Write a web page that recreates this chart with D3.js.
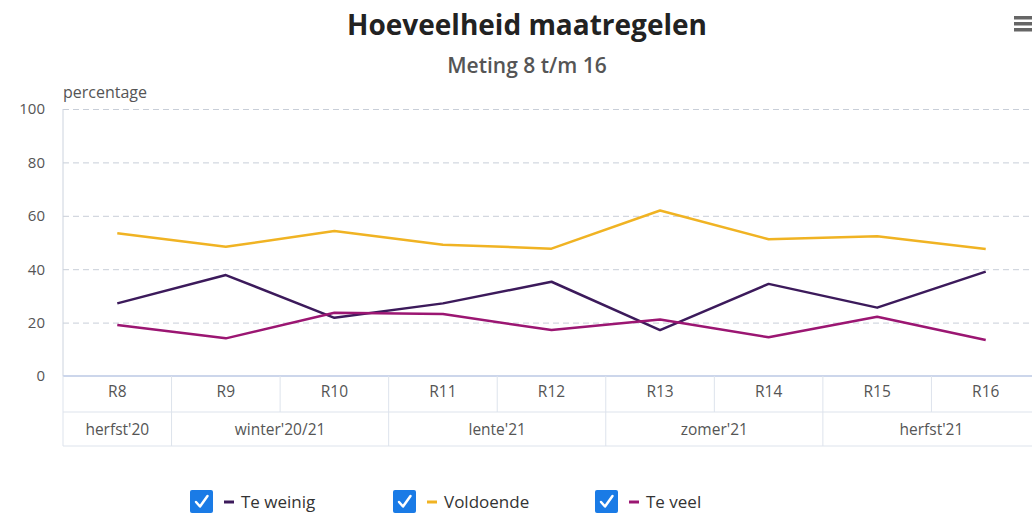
<!DOCTYPE html>
<html><head><meta charset="utf-8">
<script src="https://cdn.jsdelivr.net/npm/d3@7"></script>
<style>body{margin:0;background:#fff;}svg{display:block;font-family:"Open Sans","Noto Sans",sans-serif;}</style>
</head><body>
<svg id="c" width="1032" height="517"></svg>
<script>
const categories = ["R8","R9","R10","R11","R12","R13","R14","R15","R16"];
const seasons = ["herfst'20","winter'20/21","lente'21","zomer'21","herfst'21"];
const seasonSpans = [1,2,2,2,2];
const seriesNames = ["Te weinig","Voldoende","Te veel"];
const teWeinig = [27.2,37.8,21.8,27.2,35.3,17.2,34.5,25.6,39.1];
const voldoende = [53.5,48.4,54.3,49.2,47.7,62.0,51.2,52.3,47.6];
const teVeel = [19.1,14.1,23.7,23.2,17.2,21.2,14.5,22.2,13.5];
const yTicks = [0,20,40,60,80,100];
const colors = ["#3c1a5b","#f0b323","#9b1672"];

(function(){
const svg = d3.select("#c");
const pl = 63, pr = 1040, pt = 109, pb = 376;
const x = d3.scaleBand().domain(categories).range([pl,pr]);
const y = d3.scaleLinear().domain([0,100]).range([pb,pt]);
const FF = "'Open Sans','Noto Sans',sans-serif";

// title
svg.append("text").attr("x",527).attr("y",35).attr("text-anchor","middle")
  .attr("font-size",28).attr("font-weight",700).attr("fill","#222").text("Hoeveelheid maatregelen");
svg.append("text").attr("x",527).attr("y",73).attr("text-anchor","middle")
  .attr("font-size",21).attr("font-weight",600).attr("fill","#555").text("Meting 8 t/m 16");
// hamburger
[0,1,2].forEach(i=>svg.append("rect").attr("x",1014).attr("y",16+i*6).attr("width",20).attr("height",3.5).attr("fill","#666"));

// grid
const yAxis = svg.append("g").attr("transform",`translate(${pl},0)`)
  .call(d3.axisLeft(y).tickValues(yTicks).tickSize(-(pr-pl)).tickPadding(18));
yAxis.attr("font-family",FF);
yAxis.select(".domain").remove();
yAxis.selectAll(".tick line").attr("stroke","#c8ced8").attr("stroke-dasharray","6,4")
  .filter(d=>d===0).remove();
yAxis.selectAll(".tick text").attr("font-size",15).attr("fill","#555");
svg.append("line").attr("x1",pl).attr("x2",pl).attr("y1",pt).attr("y2",pb).attr("stroke","#ccd3de");
svg.append("text").attr("x",pl).attr("y",98).attr("font-size",16).attr("fill","#555").text("percentage");

// x axis table
const r1 = pb, r2 = 412, r3 = 446;
const xAxis = svg.append("g").attr("transform",`translate(0,${pb})`)
  .call(d3.axisBottom(x).tickSize(0).tickPadding(12));
xAxis.attr("font-family",FF);
xAxis.select(".domain").remove();
xAxis.selectAll(".tick text").attr("font-size",15.5).attr("fill","#555").attr("dy","0.6em");
svg.append("line").attr("x1",pl).attr("x2",pr).attr("y1",r1).attr("y2",r1).attr("stroke","#ccd6eb").attr("stroke-width",2);
svg.append("line").attr("x1",pl).attr("x2",pr).attr("y1",r2).attr("y2",r2).attr("stroke","#dde3ec");
svg.append("line").attr("x1",pl).attr("x2",pr).attr("y1",r3).attr("y2",r3).attr("stroke","#dde3ec");
categories.forEach(c=>svg.append("line").attr("x1",x(c)).attr("x2",x(c)).attr("y1",r1).attr("y2",r2).attr("stroke","#dde3ec"));
let idx = 0;
seasons.forEach((s,i)=>{
  const x0 = x(categories[idx]);
  const x1 = x(categories[idx+seasonSpans[i]-1]) + x.bandwidth();
  svg.append("line").attr("x1",x0).attr("x2",x0).attr("y1",r2).attr("y2",r3).attr("stroke","#dde3ec");
  svg.append("text").attr("x",(x0+x1)/2).attr("y",435).attr("text-anchor","middle")
    .attr("font-size",15.5).attr("fill","#555").text(s);
  idx += seasonSpans[i];
});

// lines
const data = [teWeinig, voldoende, teVeel];
const line = d3.line().x((d,i)=>x(categories[i])+x.bandwidth()/2).y(d=>y(d));
[1,0,2].forEach(k=>{
  svg.append("path").datum(data[k]).attr("d",line).attr("fill","none")
    .attr("stroke",colors[k]).attr("stroke-width",2.5).attr("stroke-linejoin","round");
});

// legend
const legX = [190,393,595];
seriesNames.forEach((n,i)=>{
  const g = svg.append("g").attr("transform",`translate(${legX[i]},490)`);
  g.append("rect").attr("width",23).attr("height",23).attr("rx",2).attr("fill","#1a7be6");
  g.append("path").attr("d","M6,12 L10,16.5 L17.5,6").attr("fill","none").attr("stroke","#fff").attr("stroke-width",2.5).attr("stroke-linecap","round").attr("stroke-linejoin","round");
  g.append("line").attr("x1",34).attr("x2",44).attr("y1",12).attr("y2",12).attr("stroke",colors[i]).attr("stroke-width",3);
  g.append("text").attr("x",51).attr("y",18).attr("font-size",17).attr("fill","#333").text(n);
});
})();
</script>
</body></html>
